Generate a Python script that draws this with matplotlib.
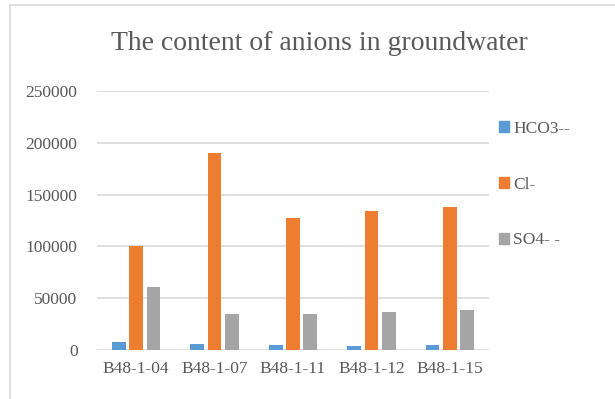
import matplotlib.pyplot as plt
import matplotlib.patches as mpatches
import numpy as np

# Anion content per well
wells = ['B48-1-04', 'B48-1-07', 'B48-1-11', 'B48-1-12', 'B48-1-15']
hco3 = [8000, 5500, 5000, 4000, 5000]
cl = [100500, 190500, 127800, 134600, 138400]
so4 = [60500, 34500, 35000, 37000, 39000]

series = [('HCO3--', hco3, '#5B9BD5'),
          ('Cl-', cl, '#ED7D31'),
          ('SO4- -', so4, '#A5A5A5')]

plt.rcParams['font.family'] = ['Liberation Serif', 'DejaVu Serif']

W, H = 615, 399
fig = plt.figure(figsize=(W / 100, H / 100), dpi=100)

# light frame around the chart
fig.patches.append(mpatches.Rectangle((10 / W, -0.05), 1.0, (H - 5) / H + 0.05,
                                      transform=fig.transFigure, fill=False,
                                      edgecolor='#D9D9D9', linewidth=1.2))

ax = fig.add_axes([97 / W, (H - 350) / H, 392 / W, (350 - 91) / H])

x = np.arange(len(wells))
width = 0.175
offset = 0.22
for i, (name, vals, color) in enumerate(series):
    ax.bar(x + (i - 1) * offset, vals, width, color=color, label=name, zorder=3)

ax.set_xlim(-0.5, len(wells) - 0.5)
ax.set_ylim(0, 250000)
ax.set_yticks(range(0, 250001, 50000))
ax.set_xticks(x)
ax.set_xticklabels(wells)
ax.grid(axis='y', color='#D9D9D9', linewidth=1.2, zorder=0)
for s in ax.spines.values():
    s.set_visible(False)
ax.tick_params(length=0, labelsize=12.5, labelcolor='#595959')
ax.tick_params(axis='y', pad=14)
ax.tick_params(axis='x', pad=8)

fig.text(319 / W, 1 - 44 / H, 'The content of anions in groundwater',
         ha='center', va='center', fontsize=20, color='#595959')

handles = [mpatches.Patch(color=c) for _, _, c in series]
fig.legend(handles, [n for n, _, _ in series], loc='upper left',
           bbox_to_anchor=(483 / W, 1 - 105 / H), frameon=False,
           fontsize=12.5, labelcolor='#595959', handlelength=0.6,
           handleheight=0.6, handletextpad=0.25, labelspacing=2.3)

fig.savefig('out.png', dpi=100)
